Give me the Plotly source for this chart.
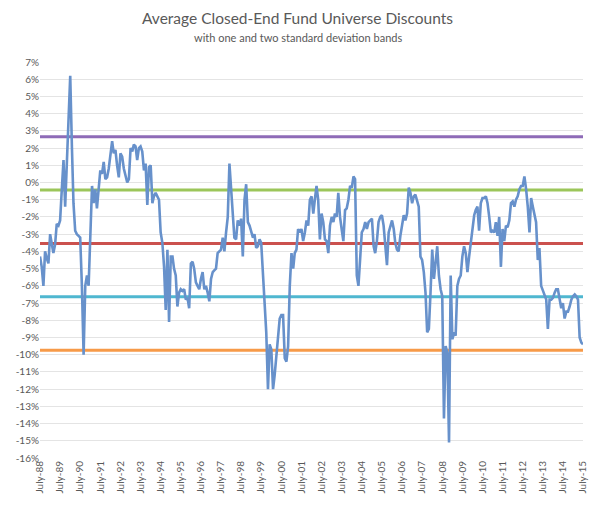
import pandas as pd
import plotly.graph_objects as go

# Monthly average closed-end fund universe discount (%), July 1988 - July 2015
discount = [
    -4.3, -4.9, -6.0, -4.0, -4.4, -4.7, -3.0, -3.5, -4.1, -3.6, -2.4, -2.5,
    -2.2, -0.4, 1.3, -1.4, 1.2, 4.0, 6.2, 2.0, -1.2, -2.8, -3.0, -3.1,
    -3.2, -6.0, -10.0, -6.0, -5.4, -6.0, -3.0, -0.2, -1.2, -0.4, -1.5, -0.5,
    0.7, 0.5, 1.2, 0.2, 0.3, 0.8, 1.6, 2.4, 1.7, 1.9, 1.0, 0.3,
    1.7, 1.5, 0.8, 0.3, 0.0, 0.2, 2.0, 1.8, 2.2, 2.1, 1.3, 2.0,
    2.1, 1.8, 0.7, 1.1, -1.3, 0.9, 1.0, -1.2, -0.8, -0.6, -0.8, -1.0,
    -2.9, -3.5, -4.9, -7.4, -3.9, -8.1, -4.3, -4.3, -5.0, -5.4, -7.2, -6.4,
    -6.2, -6.3, -6.2, -6.8, -6.7, -7.3, -4.7, -4.6, -5.0, -5.8, -6.0, -6.2,
    -5.6, -5.2, -6.2, -6.0, -6.4, -6.9, -5.6, -5.2, -5.1, -5.0, -4.1, -4.0,
    -3.9, -3.2, -4.0, -2.9, -2.0, 1.1, -0.6, -2.0, -3.2, -3.3, -2.2, -2.5,
    -2.1, -4.3, -1.0, -0.1, -2.3, -2.5, -2.9, -3.2, -3.0, -3.8, -3.7, -3.3,
    -3.5, -5.2, -6.8, -8.7, -12.0, -9.4, -9.7, -12.0, -11.2, -10.2, -8.9, -7.9,
    -7.7, -7.7, -10.2, -10.4, -9.5, -6.0, -4.1, -5.0, -4.1, -3.9, -2.7, -2.9,
    -2.7, -3.4, -2.9, -2.2, -2.5, -1.0, -0.8, -1.8, -1.0, -0.2, -1.0, -3.3,
    -1.8, -2.3, -3.3, -3.4, -4.1, -2.5, -2.0, -2.3, -1.8, -2.0, -0.6, -2.0,
    -2.7, -3.4, -1.6, -1.5, -1.0, -0.2, -0.3, 0.35, 0.2, -5.4, -6.0, -4.1,
    -2.9, -2.7, -2.3, -2.7, -2.3, -2.2, -2.1, -3.7, -4.1, -3.4, -2.3, -2.0,
    -1.9, -2.5, -3.7, -4.8, -2.9, -2.5, -2.2, -2.7, -3.5, -3.9, -4.0, -3.1,
    -2.5, -1.9, -2.2, -1.8, -0.3, -0.6, -1.2, -0.8, -0.7, -1.0, -1.4, -4.3,
    -4.5, -5.2, -6.4, -8.7, -8.5, -6.4, -3.9, -5.6, -4.5, -3.7, -5.4, -6.2,
    -6.6, -13.7, -9.5, -9.9, -15.1, -5.4, -9.1, -8.7, -8.9, -6.0, -5.6, -5.4,
    -4.3, -3.7, -4.1, -5.2, -4.3, -3.5, -2.7, -1.9, -1.6, -1.4, -2.8, -1.2,
    -0.9, -0.9, -0.8, -1.2, -2.0, -2.9, -2.8, -2.9, -2.3, -3.1, -2.0, -4.9,
    -2.7, -3.4, -2.5, -2.6, -2.2, -1.2, -1.1, -1.4, -1.0, -0.8, -0.4, -0.2,
    -0.2, 0.35, -0.4, -1.4, -2.9, -0.9, -1.4, -2.0, -2.3, -4.5, -3.8, -6.0,
    -6.3, -6.6, -6.8, -8.5, -6.8, -6.8, -6.7, -6.4, -6.2, -6.2, -6.8, -7.3,
    -7.0, -7.9, -7.5, -7.5, -7.2, -6.8, -6.6, -6.5, -6.6, -6.8, -9.0, -9.3,
    -9.4,
]

# Mean +/- 1 and 2 standard deviation bands (%)
band_values = [2.66, -0.44, -3.54, -6.64, -9.74]
band_colors = ["#8E6BB7", "#9CC65A", "#CB514E", "#4FB7D0", "#F79A48"]

tick_years = list(range(1988, 2016))
tick_labels = ["July-%02d" % (y % 100) for y in tick_years]
y_ticks = list(range(7, -17, -1))
y_tick_labels = ["%d%%" % v for v in y_ticks]

title_text = "Average Closed-End Fund Universe Discounts"
subtitle_text = "with one and two standard deviation bands"

months = pd.date_range("1988-07-01", periods=len(discount), freq="MS")
tick_dates = [pd.Timestamp(year=y, month=7, day=1) for y in tick_years]

fig = go.Figure()
for val, col in zip(band_values, band_colors):
    fig.add_trace(go.Scatter(
        x=[months[0], months[-1]], y=[val, val], mode="lines",
        line=dict(color=col, width=3), hoverinfo="skip", showlegend=False))

fig.add_trace(go.Scatter(
    x=months, y=discount, mode="lines",
    line=dict(color="#6791CB", width=2.6), showlegend=False))

fig.add_annotation(text=title_text, xref="paper", yref="paper",
                   x=0.475, y=1.1106, xanchor="center", yanchor="middle",
                   showarrow=False, font=dict(size=15.5, color="#595959"))
fig.add_annotation(text=subtitle_text, xref="paper", yref="paper",
                   x=0.475, y=1.0628, xanchor="center", yanchor="middle",
                   showarrow=False, font=dict(size=11, color="#595959"))

fig.update_layout(
    width=600, height=506,
    margin=dict(l=40, r=15, t=62, b=46),
    paper_bgcolor="white", plot_bgcolor="white",
    font=dict(family="Lato, Open Sans, sans-serif", color="#595959"),
    xaxis=dict(
        range=[months[0], months[-1]], tickmode="array",
        tickvals=tick_dates, ticktext=tick_labels, tickangle=-90,
        showgrid=False, zeroline=False, showline=False,
        tickfont=dict(size=10, color="#595959"), ticks=""),
    yaxis=dict(
        range=[-16, 7], tickmode="array", tickvals=y_ticks,
        ticktext=y_tick_labels, showgrid=True, gridcolor="#E4E4E4",
        gridwidth=1.2, zeroline=False, showline=False, ticks="",
        tickfont=dict(size=10, color="#595959")),
)

fig.write_html(
    "out.html",
    config={"displayModeBar": False},
    post_script="document.body.style.margin='0';document.body.style.padding='0';",
)
